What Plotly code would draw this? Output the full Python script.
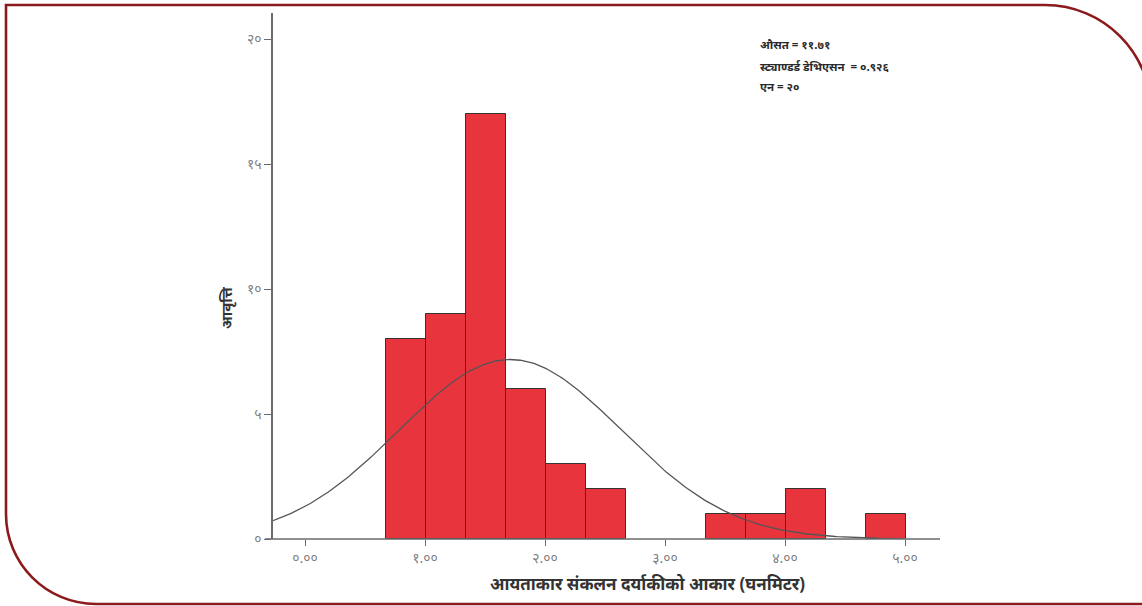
import numpy as np
import plotly.graph_objects as go

# Histogram data: bin counts over equal-width bins
first_edge = 0.675
bin_width = 1 / 3
counts = [8, 9, 17, 6, 3, 2, 0, 0, 1, 1, 2, 0, 1]

# Fitted normal curve parameters
mean_val = 1.71
sd_val = 0.926
n_total = sum(counts)

# Axis ticks (Devanagari numerals)
x_tickvals = [0, 1, 2, 3, 4, 5]
x_ticktext = ["०.००", "१.००", "२.००", "३.००", "४.००", "५.००"]
y_tickvals = [0, 5, 10, 15, 20]
y_ticktext = ["०", "५", "१०", "१५", "२०"]

x_title = "आयताकार संकलन दर्याकीको आकार (घनमिटर)"
y_title = "आवृत्ति"
stats_lines = ["औसत = ११.७१", "स्ट्याण्डर्ड डेभिएसन  = ०.९२६", "एन = २०"]

W, H = 1142, 606
L, R, T, B = 273, 202, 13, 67
PW, PH = W - L - R, H - T - B
x_min = -0.267
x_max = x_min + PW / 120
y_max = PH / 25

centers, heights = [], []
for i, c in enumerate(counts):
    if c > 0:
        centers.append(first_edge + (i + 0.5) * bin_width)
        heights.append(c)

fig = go.Figure()
fig.add_trace(go.Bar(
    x=centers, y=heights, width=bin_width,
    marker=dict(color="#e8353d", line=dict(color="#333333", width=1)),
    showlegend=False, hoverinfo="skip",
))

xs = np.linspace(x_min, 5.0, 300)
ys = n_total * bin_width * np.exp(-0.5 * ((xs - mean_val) / sd_val) ** 2) / (sd_val * np.sqrt(2 * np.pi))
fig.add_trace(go.Scatter(
    x=xs, y=ys, mode="lines", line=dict(color="#555555", width=1.3),
    showlegend=False, hoverinfo="skip",
))


def px(x):
    return (x - L) / PW


def py(y):
    return (H - B - y) / PH


# Decorative frame: square top-left, rounded top-right and bottom-left
k = 0.5523
r1 = 106
cx1, cy1 = 1045, 5 + r1
r2 = 90
cx2, cy2 = 6 + r2, 604 - r2
right_x = cx1 + r1
path = f"M {px(right_x + 20)},{py(604)} L {px(cx2)},{py(604)} "
path += (f"C {px(cx2 - k * r2)},{py(604)} {px(6)},{py(cy2 + k * r2)} {px(6)},{py(cy2)} ")
path += f"L {px(6)},{py(5)} L {px(cx1)},{py(5)} "
path += (f"C {px(cx1 + k * r1)},{py(5)} {px(right_x)},{py(cy1 - k * r1)} {px(right_x)},{py(cy1)} ")
path += f"L {px(right_x)},{py(620)}"

shapes = [
    dict(type="path", path=path, xref="paper", yref="paper",
         line=dict(color="#8a1a1c", width=2.6), layer="above"),
    # x-axis line extends slightly left of the y-axis
    dict(type="line", xref="paper", yref="paper", x0=px(265), x1=1, y0=0, y1=0,
         line=dict(color="#6a6a6a", width=1.5), layer="above"),
]

annotations = []
for i, line in enumerate(stats_lines):
    annotations.append(dict(
        text=f"<b>{line}</b>", xref="paper", yref="paper", x=px(758), y=py(45 + 21 * i),
        xanchor="left", yanchor="middle", showarrow=False,
        font=dict(size=11.5, color="#2a2a2a", family="Noto Sans, sans-serif"),
    ))

# Axis titles
annotations.append(dict(
    text=f"<b>{x_title}</b>", xref="paper", yref="paper", x=px(647), y=py(583),
    xanchor="center", yanchor="middle", showarrow=False,
    font=dict(size=17, color="#333333", family="Noto Sans, sans-serif"),
))
annotations.append(dict(
    text=f"<b>{y_title}</b>", xref="paper", yref="paper", x=px(226), y=py(308),
    xanchor="center", yanchor="middle", showarrow=False, textangle=-90,
    font=dict(size=15, color="#333333", family="Noto Sans, sans-serif"),
))

fig.update_layout(
    width=W, height=H,
    margin=dict(l=L, r=R, t=T, b=B),
    paper_bgcolor="white", plot_bgcolor="white",
    bargap=0,
    shapes=shapes,
    annotations=annotations,
    font=dict(family="Noto Sans, sans-serif"),
    xaxis=dict(
        range=[x_min, x_max], tickvals=x_tickvals, ticktext=x_ticktext,
        showgrid=False, zeroline=False, showline=False,
        ticks="outside", ticklen=6, tickcolor="#6a6a6a", tickwidth=1.2,
        tickfont=dict(size=14, color="#808080"),
    ),
    yaxis=dict(
        range=[0, y_max], tickvals=y_tickvals, ticktext=y_ticktext,
        showgrid=False, zeroline=False, showline=True, linecolor="#6a6a6a", linewidth=1.5,
        ticks="outside", ticklen=7, tickcolor="#6a6a6a", tickwidth=1.2,
        tickfont=dict(size=14, color="#808080"),
    ),
)

fig.write_html("out.html")
